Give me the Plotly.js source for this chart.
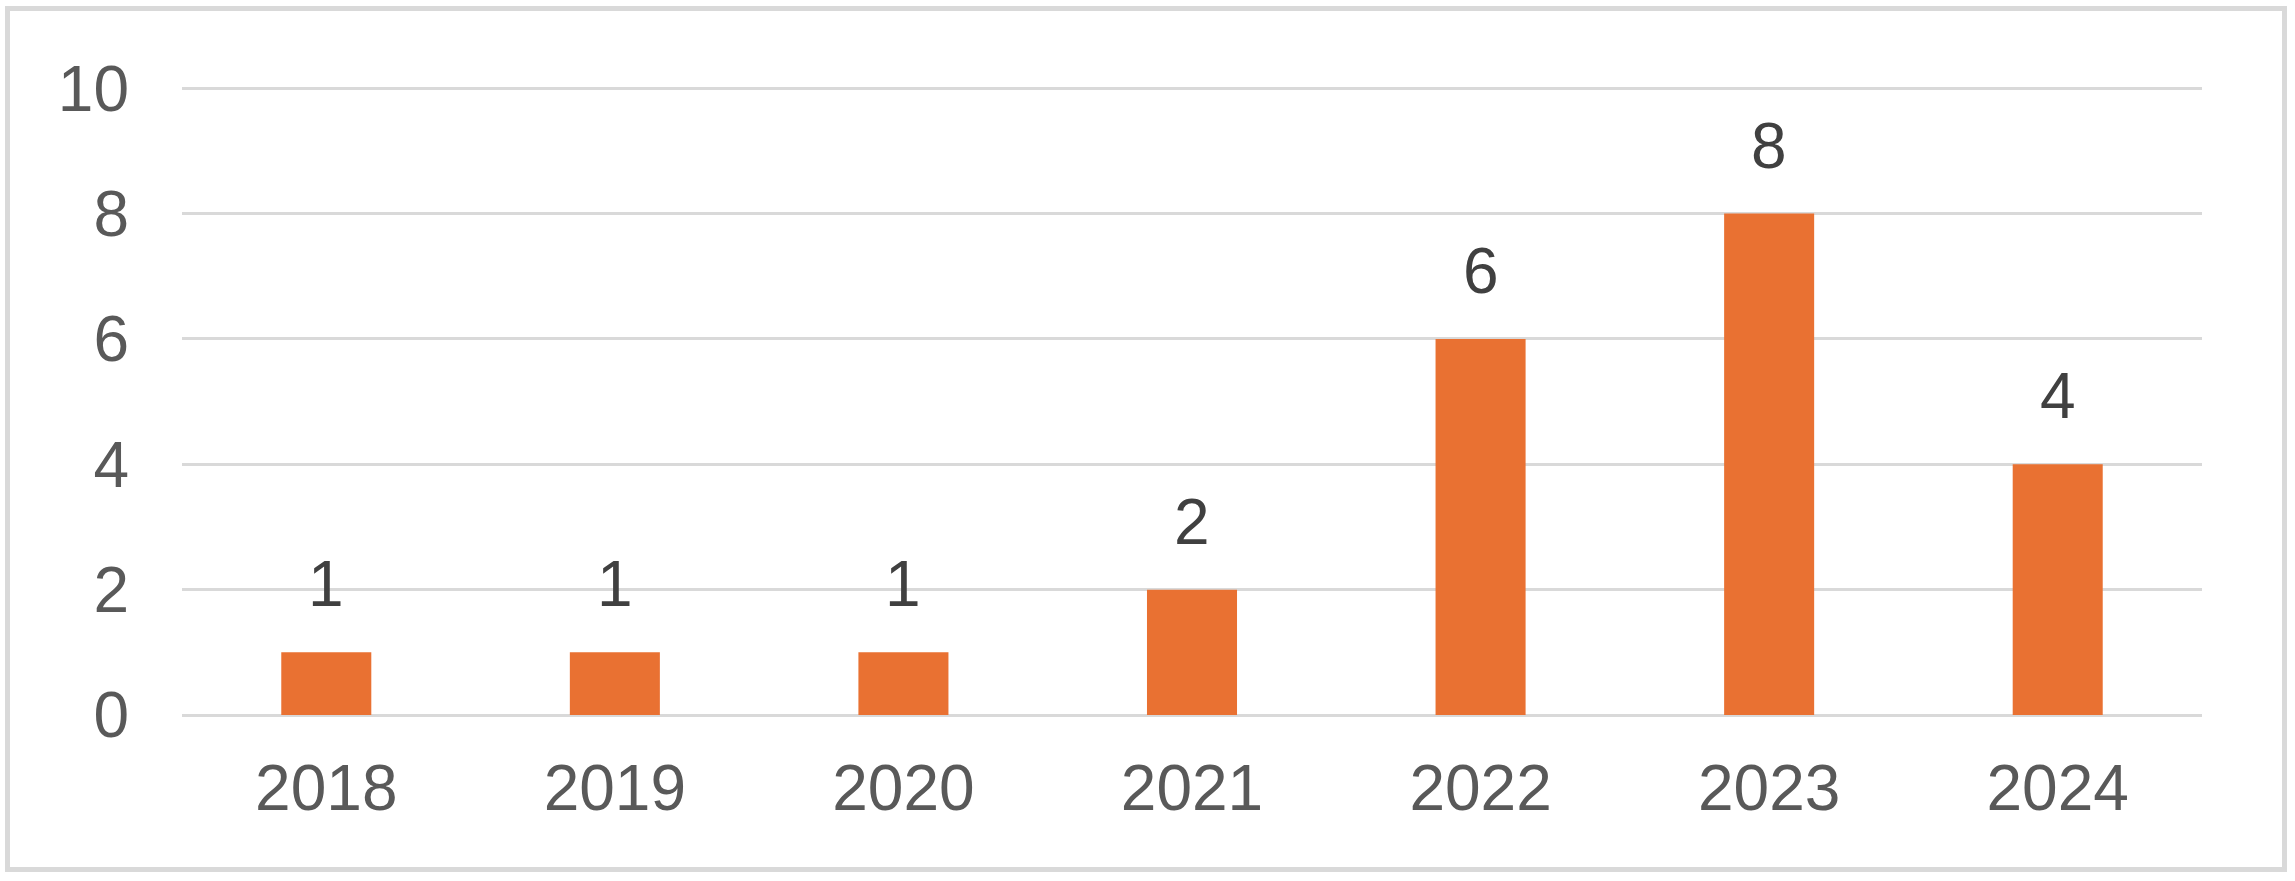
<!DOCTYPE html>
<html>
<head>
<meta charset="utf-8">
<script src="https://cdn.plot.ly/plotly-3.0.1.min.js"></script>
<style>
  body { margin: 0; background: #fff; }
  #frame { position: absolute; left: 5px; top: 6px; width: 2282px; height: 866px;
           box-sizing: border-box; border: 5px solid #d9d9d9; background: #fff; }
  #chart { width: 2272px; height: 856px; }
</style>
</head>
<body>
<div id="frame"><div id="chart"></div></div>
<script>
// per-year counts
const years  = ['2018', '2019', '2020', '2021', '2022', '2023', '2024'];
const counts = [1, 1, 1, 2, 6, 8, 4];
const yTicks = [0, 2, 4, 6, 8, 10];

const FONT = 'Liberation Sans, Arial, sans-serif';
const BAR  = '#E97132';
const GRID = '#d9d9d9';

const traces = [{
  x: years, y: counts,
  type: 'bar',
  marker: { color: BAR },
  hoverinfo: 'x+y',
}];

// value labels above the bars (x given as category index so numeric-looking
// year strings are not read as positions)
const annotations = counts.map((v, i) => ({
  x: i, y: v, text: String(v),
  xref: 'x', yref: 'y', showarrow: false,
  yanchor: 'bottom', yshift: 30,
  font: { family: FONT, size: 64, color: '#404040' },
}));

const layout = {
  width: 2272, height: 856,
  margin: { l: 172, r: 80, t: 74, b: 152 },
  paper_bgcolor: '#fff', plot_bgcolor: '#fff',
  showlegend: false,
  bargap: 0.688,
  font: { family: FONT, size: 64, color: '#595959' },
  xaxis: {
    type: 'category', showgrid: false, showline: false, ticks: '',
    tickfont: { family: FONT, size: 64, color: '#595959' },
    ticklabelstandoff: 30,
  },
  yaxis: {
    // a little headroom so the top gridline at 10 is not clipped
    range: [0, 10.05], tickvals: yTicks, ticktext: yTicks.map(String),
    showgrid: true, gridcolor: GRID, gridwidth: 3,
    zeroline: true, zerolinecolor: GRID, zerolinewidth: 3,
    showline: false, ticks: '',
    tickfont: { family: FONT, size: 64, color: '#595959' },
    ticklabelstandoff: 52,
  },
  annotations: annotations,
};

Plotly.newPlot('chart', traces, layout, { displayModeBar: false, staticPlot: true });
</script>
</body>
</html>
